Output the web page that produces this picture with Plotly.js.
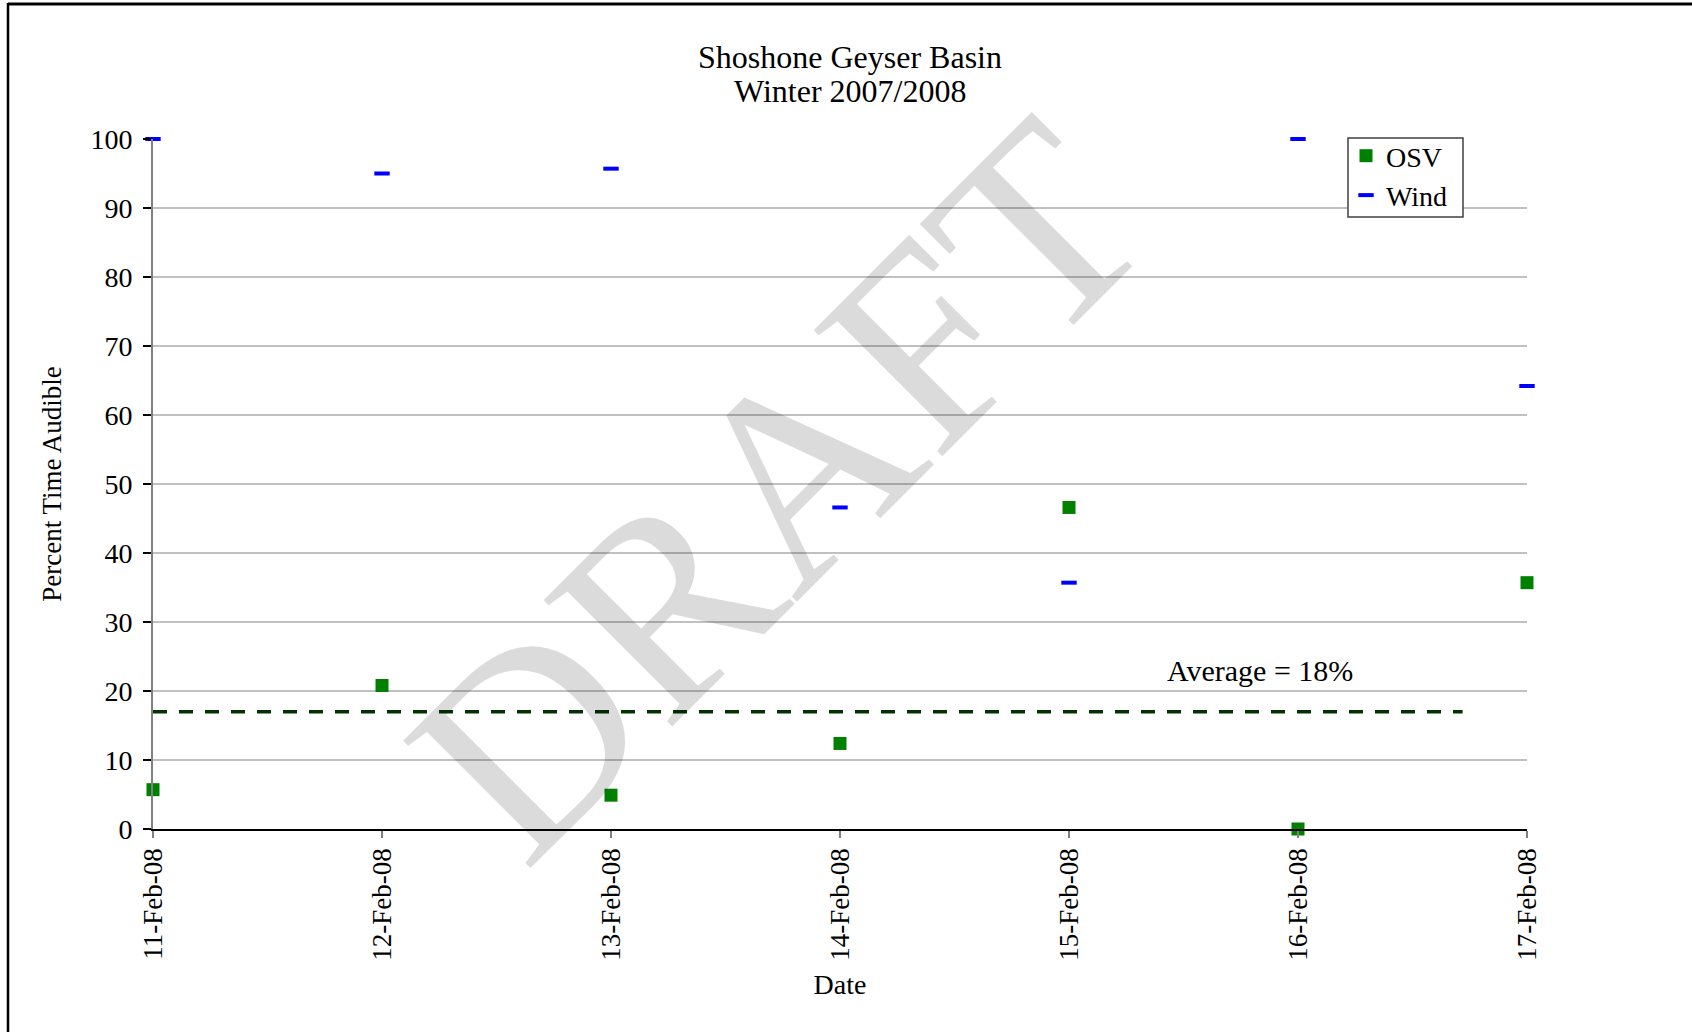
<!DOCTYPE html>
<html>
<head>
<meta charset="utf-8">
<script src="https://cdn.plot.ly/plotly-3.0.1.min.js"></script>
<style>
  html, body { margin: 0; padding: 0; background: #ffffff; }
  #chart { width: 1692px; height: 1032px; }
</style>
</head>
<body>
<div id="chart"></div>
<script>
// ---- Data ----
const dates = ['2008-02-11', '2008-02-12', '2008-02-13', '2008-02-14', '2008-02-15', '2008-02-16', '2008-02-17'];
const tickLabels = ['11-Feb-08', '12-Feb-08', '13-Feb-08', '14-Feb-08', '15-Feb-08', '16-Feb-08', '17-Feb-08'];
const osvValues = [5.7, 20.8, 4.9, 12.4, 46.6, 0, 35.7];
const windValues = [100, 95.0, 95.7, 46.6, 35.7, 100, 64.2];
const averageX = ['2008-02-11', '2008-02-16 17:15'];
const averageY = [17, 17];
const averageLabel = 'Average = 18%';
const titleLine1 = 'Shoshone Geyser Basin';
const titleLine2 = 'Winter 2007/2008';
const yTitle = 'Percent Time Audible';
const xTitle = 'Date';
const watermark = 'DRAFT';

const FONT = "'Liberation Serif', 'Times New Roman', serif";

// plot area in pixels
const L = 153, R = 165, T = 139, B = 203;
const W = 1692, H = 1032;
const PW = W - L - R, PH = H - T - B;
const px = x => (x - L) / PW;
const py = y => (H - B - y) / PH;

const traces = [
  {
    name: 'Average',
    x: averageX, y: averageY,
    type: 'scatter', mode: 'lines',
    line: { color: '#003300', width: 3.5, dash: '14px,12px' },
    showlegend: false, hoverinfo: 'skip'
  },
  {
    name: 'OSV',
    x: dates, y: osvValues,
    type: 'scatter', mode: 'markers',
    marker: { symbol: 'square', size: 13, color: '#008000' },
    cliponaxis: false
  },
  {
    name: 'Wind',
    x: dates, y: windValues,
    type: 'scatter', mode: 'markers',
    marker: { symbol: 'line-ew', size: 11, color: '#0000ff', line: { width: 4, color: '#0000ff' } },
    cliponaxis: false
  }
];

const layout = {
  width: W, height: H,
  margin: { l: L, r: R, t: T, b: B, pad: 0 },
  paper_bgcolor: '#ffffff',
  plot_bgcolor: '#ffffff',
  font: { family: FONT, color: '#000000', size: 26 },
  title: {
    text: titleLine1,
    font: { family: FONT, size: 32, color: '#000000' },
    xref: 'container', x: 850 / W, xanchor: 'center',
    yref: 'container', y: 1 - 57 / H, yanchor: 'middle'
  },
  showlegend: true,
  legend: {
    x: px(1346), y: py(131), xanchor: 'left', yanchor: 'top',
    bgcolor: 'rgba(0,0,0,0)', borderwidth: 0,
    font: { family: FONT, size: 28, color: '#000000' },
    tracegroupgap: 0
  },
  xaxis: {
    type: 'date',
    range: [dates[0], dates[dates.length - 1]],
    tickvals: dates,
    ticktext: tickLabels,
    tickangle: -90,
    tickfont: { family: FONT, size: 27, color: '#000000' },
    ticks: 'outside', ticklen: 7, tickwidth: 1.5, tickcolor: '#808080',
    showgrid: false, zeroline: false,
    showline: true, linecolor: '#000000', linewidth: 1.5,
    title: { text: xTitle, font: { family: FONT, size: 28, color: '#000000' }, standoff: 14 },
    fixedrange: true
  },
  yaxis: {
    range: [0, 100],
    tickvals: [0, 10, 20, 30, 40, 50, 60, 70, 80, 90, 100],
    tickfont: { family: FONT, size: 28, color: '#000000' },
    ticks: 'outside', ticklen: 8, tickwidth: 1.5, tickcolor: '#000000',
    ticklabelstandoff: 5,
    showgrid: true, gridcolor: '#c0c0c0', gridwidth: 1.5,
    zeroline: false,
    showline: true, linecolor: '#808080', linewidth: 2,
    title: { text: yTitle, font: { family: FONT, size: 27, color: '#000000' }, standoff: 21 },
    fixedrange: true
  },
  annotations: [
    {
      text: titleLine2,
      xref: 'paper', yref: 'paper', x: px(850), y: py(91),
      xanchor: 'center', yanchor: 'middle', showarrow: false,
      font: { family: FONT, size: 32, color: '#000000' }
    },
    {
      text: averageLabel,
      xref: 'paper', yref: 'paper', x: px(1260), y: py(670),
      xanchor: 'center', yanchor: 'middle', showarrow: false,
      font: { family: FONT, size: 30, color: '#000000' }
    },
    {
      text: watermark,
      xref: 'paper', yref: 'paper', x: px(778), y: py(489),
      xanchor: 'center', yanchor: 'middle', showarrow: false,
      textangle: -45,
      font: { family: FONT, size: 275, color: 'rgba(0,0,0,0.14)' }
    }
  ],
  shapes: [
    { type: 'line', xref: 'paper', yref: 'paper', x0: px(8), x1: px(W + 5), y0: py(4), y1: py(4),
      line: { color: '#000000', width: 3 } },
    { type: 'line', xref: 'paper', yref: 'paper', x0: px(8), x1: px(8), y0: py(3), y1: py(H + 5),
      line: { color: '#000000', width: 2.5 } },
    // legend frame
    { type: 'rect', xref: 'paper', yref: 'paper', layer: 'above',
      x0: px(1348), x1: px(1463), y0: py(138), y1: py(217),
      fillcolor: '#ffffff', line: { color: '#404040', width: 1.5 } }
  ]
};

Plotly.newPlot('chart', traces, layout, { displayModeBar: false, staticPlot: true });
</script>
</body>
</html>
